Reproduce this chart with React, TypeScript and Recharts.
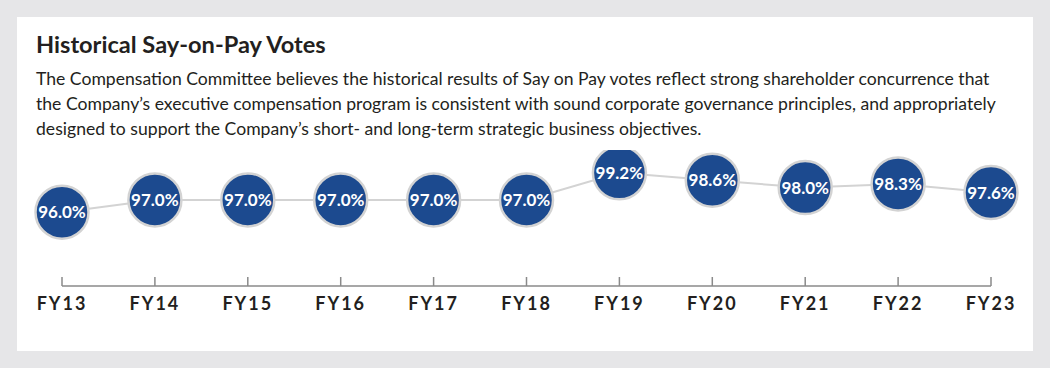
import { LineChart, Line, XAxis, YAxis } from "recharts";

const years = ["FY13", "FY14", "FY15", "FY16", "FY17", "FY18", "FY19", "FY20", "FY21", "FY22", "FY23"];
const votes = [96.0, 97.0, 97.0, 97.0, 97.0, 97.0, 99.2, 98.6, 98.0, 98.3, 97.6];

const data = years.map((year, i) => ({ year, vote: votes[i] }));

const FONT = "Lato, 'Open Sans', sans-serif";
const INK = "#231f20";

const VoteDot = (props: any) => {
  const { cx, cy, value } = props;
  if (cx == null || cy == null) return null;
  return (
    <g key={`dot-${cx}`}>
      <circle cx={cx} cy={cy} r={26.5} fill="#1c4a8f" stroke="#d3d3d3" strokeWidth={2.5} />
      <text
        x={cx}
        y={cy}
        dy={6}
        textAnchor="middle"
        fill="#fff"
        fontFamily={FONT}
        fontWeight={700}
        fontSize={17}
      >
        {value.toFixed(1)}%
      </text>
    </g>
  );
};

const YearTick = (props: any) => {
  const { x, y, payload } = props;
  return (
    <g>
      <line x1={x} x2={x} y1={y - 9} y2={y} stroke="#8a8a8a" strokeWidth={1.5} />
      <text
        x={x}
        y={y + 24}
        textAnchor="middle"
        fill={INK}
        fontFamily={FONT}
        fontWeight={700}
        fontSize={18}
        letterSpacing={2}
      >
        {payload.value}
      </text>
    </g>
  );
};

export default function App() {
  return (
    <div style={{ position: "fixed", left: 0, top: 0, width: 1050, height: 368, background: "#e6e6e8" }}>
      <div style={{ position: "absolute", left: 17, top: 17, width: 1016, height: 334, background: "#fff" }}>
        <div
          style={{
            position: "absolute",
            left: 19,
            top: 13,
            fontFamily: FONT,
            fontWeight: 700,
            fontSize: 23.6,
            color: INK,
            whiteSpace: "nowrap",
          }}
        >
          Historical Say-on-Pay Votes
        </div>
        <div
          style={{
            position: "absolute",
            left: 19,
            top: 49,
            fontFamily: FONT,
            fontSize: 17.6,
            lineHeight: "25px",
            color: INK,
            whiteSpace: "nowrap",
          }}
        >
          The Compensation Committee believes the historical results of Say on Pay votes reflect strong shareholder concurrence that
          <br />
          the Company’s executive compensation program is consistent with sound corporate governance principles, and appropriately
          <br />
          designed to support the Company’s short- and long-term strategic business objectives.
        </div>
        <div style={{ position: "absolute", left: 0, top: 133 }}>
          <LineChart width={1016} height={170} data={data} margin={{ top: 13, right: 42, bottom: 0, left: 45 }}>
            <XAxis
              dataKey="year"
              padding={{ left: 0, right: 0 }}
              stroke="#8a8a8a"
              strokeWidth={1.5}
              tickLine={false}
              tickSize={0}
              tickMargin={0}
              height={34}
              interval={0}
              tick={<YearTick />}
            />
            <YAxis hide domain={[90, 100]} />
            <Line
              type="linear"
              dataKey="vote"
              stroke="#d3d3d3"
              strokeWidth={2}
              dot={<VoteDot />}
              activeDot={false}
              isAnimationActive={false}
            />
          </LineChart>
        </div>
      </div>
    </div>
  );
}
